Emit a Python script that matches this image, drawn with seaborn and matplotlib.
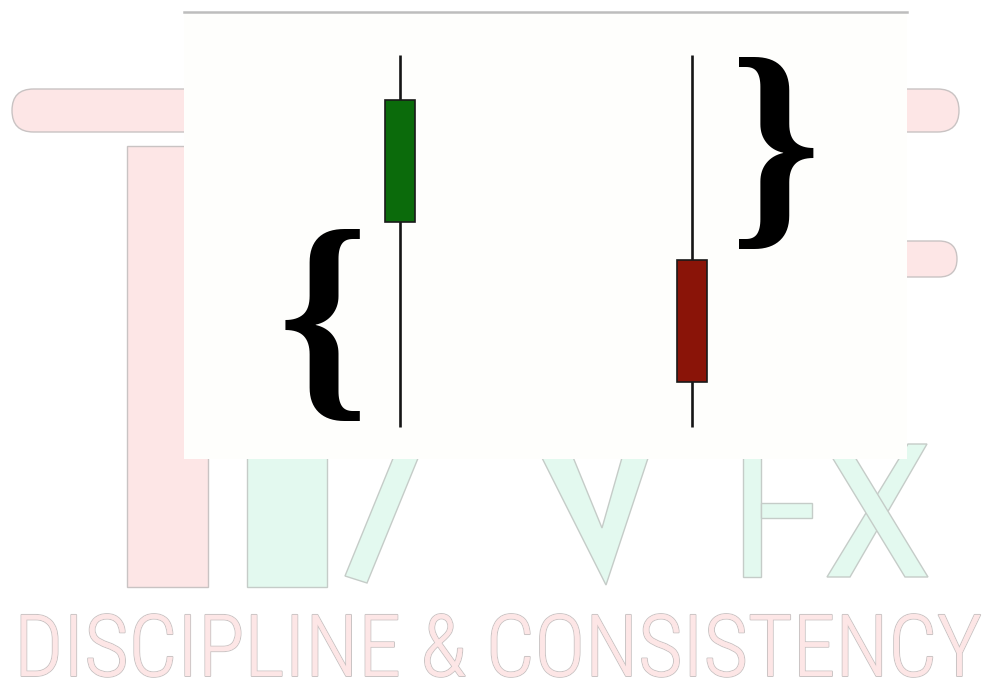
import numpy as np
import pandas as pd
import matplotlib
matplotlib.use("Agg")
import matplotlib.pyplot as plt
import seaborn as sns
from matplotlib import font_manager
from matplotlib.patches import FancyBboxPatch, Rectangle, Polygon
import matplotlib.patheffects as pe

# ---- data ----
candles = ["Bullish", "Bearish"]
open_ = [55, 45]
close = [88, 12]
high = [100, 100]
low = [0, 0]
watermark_text = "DISCIPLINE & CONSISTENCY"

sns.set_theme(style="white")

W, H = 986, 679
fig = plt.figure(figsize=(W / 100, H / 100), dpi=100)
fig.patch.set_facecolor("white")

# ---- background watermark (pixel space) ----
bg = fig.add_axes([0, 0, 1, 1])
bg.set_xlim(0, W)
bg.set_ylim(H, 0)
bg.axis("off")

pink = "#fde6e6"
green_wm = "#e3f9ef"
edge = "#c9c3c3"
gedge = "#c5ccc8"

def rbar(x0, x1, y0, y1, fc, ec):
    r = (y1 - y0) / 2
    bg.add_patch(FancyBboxPatch((x0, y0), (x1 - x0), (y1 - y0),
                                boxstyle=f"round,pad=0,rounding_size={r}",
                                mutation_aspect=1, fc=fc, ec=ec, lw=1))

rbar(12, 959, 89, 132, pink, edge)
rbar(850, 957, 241, 277, pink, edge)
bg.add_patch(Rectangle((127, 146), 81, 441, fc=pink, ec=edge, lw=1))
bg.add_patch(Rectangle((247, 300), 80, 287, fc=green_wm, ec=gedge, lw=1))
bg.add_patch(Polygon([(345, 576), (367, 583), (450, 380), (425, 380)], fc=green_wm, ec=gedge, lw=1))
bg.add_patch(Polygon([(533, 440), (566, 440), (602, 528), (627, 440), (654, 440), (606, 585)],
                     fc=green_wm, ec=gedge, lw=1))
bg.add_patch(Rectangle((743, 440), 18, 137, fc=green_wm, ec=gedge, lw=1))
bg.add_patch(Rectangle((761, 503), 51, 15, fc=green_wm, ec=gedge, lw=1))
bg.add_patch(Polygon([(827, 577), (850, 577), (927, 444), (908, 444)], fc=green_wm, ec=gedge, lw=1))
bg.add_patch(Polygon([(905, 577), (928, 577), (847, 444), (824, 444)], fc=green_wm, ec=gedge, lw=1))

def first_font(cands):
    for c in cands:
        try:
            font_manager.findfont(font_manager.FontProperties(family=c), fallback_to_default=False)
            return c
        except Exception:
            continue
    return "DejaVu Sans"

wm_font = first_font(["Liberation Sans Narrow", "Roboto Condensed", "Open Sans Condensed", "Roboto"])
wm = bg.text(498, 676, watermark_text, ha="center", va="baseline", fontsize=60,
             family=[wm_font, "DejaVu Sans"], fontweight="light", color=pink,
             path_effects=[pe.withStroke(linewidth=1.4, foreground=edge), pe.Normal()])
# fit the watermark line to the reference width (~968 px)
renderer = fig.canvas.get_renderer()
wpx = wm.get_window_extent(renderer).width
wm.set_fontsize(60 * 968 / wpx)

# ---- candlestick panel ----
x0p, x1p, y0p, y1p = 184, 907, 12, 459
ax = fig.add_axes([x0p / W, 1 - y1p / H, (x1p - x0p) / W, (y1p - y0p) / H])
ax.set_facecolor("#fefefc")

df = pd.DataFrame({"candle": candles, "open": open_, "close": close, "high": high, "low": low})
df["bottom"] = df[["open", "close"]].min(axis=1)
df["height"] = (df["close"] - df["open"]).abs()

ax.vlines(x=np.arange(len(df)), ymin=df["low"], ymax=df["high"], color="#151515", lw=1.9, zorder=1)
sns.barplot(data=df, x="candle", y="height", bottom=df["bottom"].to_numpy(), width=0.103,
            color="gray", saturation=1, errorbar=None, ax=ax, edgecolor="#1a1a1a",
            linewidth=1.2, zorder=2)
for p, (o, c) in zip(ax.patches, zip(df["open"], df["close"])):
    p.set_facecolor("#0b6b0b" if c > o else "#8a1408")
    p.set_zorder(2)

# braces marking the long wicks
for i, (o, c, h, l) in enumerate(zip(df["open"], df["close"], df["high"], df["low"])):
    if c > o:
        ax.text(i - 0.264, (l + min(o, c)) / 2 - 2.6, "{", fontsize=166, family="Liberation Serif",
                fontweight="bold", ha="center", va="center", color="black")
    else:
        ax.text(i + 0.285, (h + max(o, c)) / 2 - 1.2, "}", fontsize=166, family="Liberation Serif",
                fontweight="bold", ha="center", va="center", color="black")

ax.set_xlim(-0.7397, 1.736)
ax.set_ylim(-8.6, 111.56)
ax.set_xticks([])
ax.set_yticks([])
ax.set_xlabel("")
ax.set_ylabel("")
for s in ["left", "right", "bottom"]:
    ax.spines[s].set_visible(False)
ax.spines["top"].set_color("#bdbdbd")
ax.spines["top"].set_linewidth(1.8)

fig.savefig("out.png", dpi=100)
